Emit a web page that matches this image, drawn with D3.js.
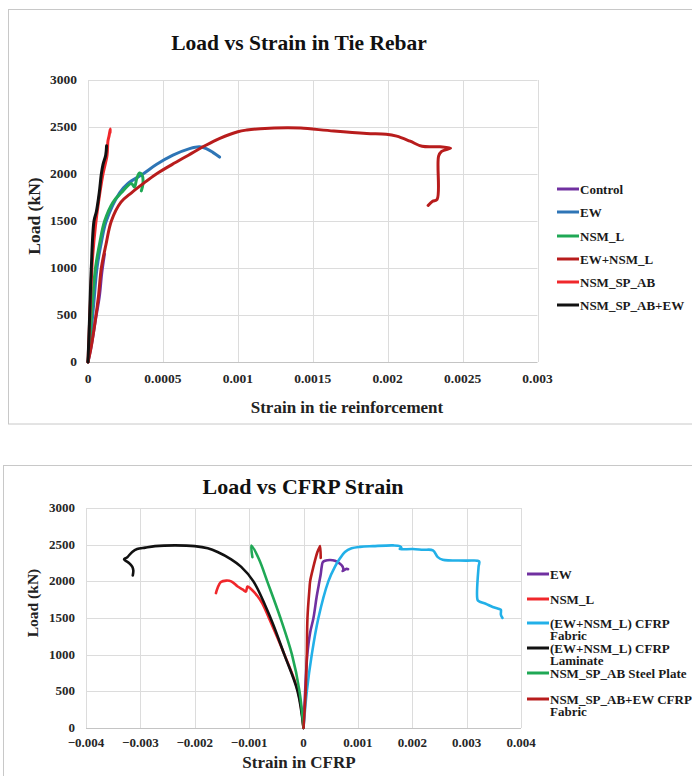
<!DOCTYPE html>
<html>
<head>
<meta charset="utf-8">
<script src="https://cdn.jsdelivr.net/npm/d3@7"></script>
<style>
  body { margin: 0; background: #fff; }
  svg { display: block; font-family: "Liberation Serif", "Times New Roman", serif; font-weight: bold; }
</style>
</head>
<body>
<div id="vis"></div>
<script>
// ---- data: [strain, load kN] ----
var tieControl = [[0,0],[0.000025,200],[0.00005,450],[0.000076,700],[0.000092,950],[0.00011,1150]];
var tieEW = [[0,0],[0.00002,300],[0.00004,650],[0.00006,1000],[0.00009,1280],[0.000122,1500],[0.000211,1800],[0.000267,1900],[0.000367,2000],[0.000456,2100],[0.000567,2200],[0.000678,2270],[0.000744,2290],[0.000789,2270],[0.000833,2230],[0.000878,2180]];
var tieNSM_L = [[0,0],[0.000015,300],[0.00003,650],[0.00005,1000],[0.00008,1280],[0.000111,1500],[0.000167,1700],[0.000222,1800],[0.000289,1900],[0.00031,1860],[0.000325,1950],[0.000344,2010],[0.000361,1990],[0.000367,1900],[0.000356,1820]];
var tieEW_NSM_L = [[0,0],[0.00002,150],[0.000045,400],[0.00007,700],[0.000089,1000],[0.00012,1250],[0.000156,1500],[0.00022,1700],[0.00029,1800],[0.00037,1900],[0.000456,2000],[0.00056,2100],[0.00067,2200],[0.00078,2300],[0.00088,2380],[0.001,2450],[0.00106,2468],[0.00115,2482],[0.00133,2493],[0.00142,2489],[0.00164,2457],[0.00186,2432],[0.00199,2424],[0.00206,2403],[0.00215,2349],[0.00223,2295],[0.00235,2290],[0.00242,2275],[0.00236,2240],[0.00234,2190],[0.00233,1730],[0.0023,1710],[0.00227,1665]];
var tieSP_AB = [[0,0],[0.00001,400],[0.00002,800],[0.00003,1100],[0.00005,1450],[0.00007,1700],[0.0001,2000],[0.000127,2200],[0.000133,2350],[0.00014,2400],[0.000149,2480],[0.000147,2440]];
var tieSP_AB_EW = [[0,0],[0.000011,500],[0.000022,1000],[0.00004,1500],[0.000056,1600],[0.000075,1800],[0.000089,2000],[0.0001,2100],[0.000118,2200],[0.000124,2300]];

var cfrpEW = [[0,0],[0.00003,500],[0.00007,1000],[0.000122,1300],[0.000183,1500],[0.000244,1800],[0.000293,2000],[0.000317,2100],[0.000335,2200],[0.000354,2260],[0.000396,2280],[0.000488,2290],[0.000579,2280],[0.000671,2240],[0.00072,2200],[0.000732,2150],[0.00072,2140],[0.000793,2170],[0.00082,2165]];
var cfrpNSM_L = [[0,0],[-0.0001,500],[-0.00035,1000],[-0.000636,1500],[-0.000758,1700],[-0.000848,1800],[-0.00097,1900],[-0.00103,1930],[-0.00106,1860],[-0.00112,1890],[-0.00121,1930],[-0.00133,2000],[-0.00142,2010],[-0.00152,1990],[-0.00158,1910],[-0.00161,1840]];
var cfrpFabric = [[0,0],[0.000061,500],[0.000152,1000],[0.000274,1500],[0.000457,2000],[0.000579,2200],[0.000659,2300],[0.000762,2400],[0.000884,2450],[0.00104,2470],[0.00128,2480],[0.00165,2490],[0.00177,2480],[0.0018,2460],[0.00177,2440],[0.00201,2440],[0.0022,2430],[0.00238,2423],[0.00247,2330],[0.00256,2295],[0.00299,2282],[0.00323,2273],[0.00322,2200],[0.0032,1750],[0.00323,1727],[0.00335,1695],[0.00348,1650],[0.0036,1623],[0.00363,1614],[0.00363,1545],[0.00366,1500]];
var cfrpLaminate = [[0,0],[-0.000109,500],[-0.000352,1000],[-0.000606,1500],[-0.000921,2000],[-0.00115,2200],[-0.00133,2300],[-0.00158,2400],[-0.00176,2450],[-0.002,2480],[-0.00236,2490],[-0.00273,2480],[-0.00291,2460],[-0.00306,2440],[-0.00315,2400],[-0.00324,2330],[-0.0033,2300],[-0.00327,2280],[-0.00321,2250],[-0.00315,2200],[-0.00313,2150],[-0.00314,2080]];
var cfrpSteelPlate = [[0,0],[-0.000073,500],[-0.000212,1000],[-0.000424,1500],[-0.000667,2000],[-0.000818,2300],[-0.000958,2490],[-0.00094,2330]];
var cfrpSP_AB_EW = [[0,0],[0.00004,500],[0.000061,1000],[0.000073,1500],[0.00011,1900],[0.000122,2000],[0.000183,2200],[0.000256,2400],[0.000293,2460],[0.000305,2480],[0.000317,2320]];

var tieNames = ["Control", "EW", "NSM_L", "EW+NSM_L", "NSM_SP_AB", "NSM_SP_AB+EW"];
var cfrpNames = [["EW"], ["NSM_L"], ["(EW+NSM_L) CFRP", "Fabric"], ["(EW+NSM_L) CFRP", "Laminate"], ["NSM_SP_AB Steel Plate"], ["NSM_SP_AB+EW CFRP", "Fabric"]];

var tieXTicks = [0, 0.0005, 0.001, 0.0015, 0.002, 0.0025, 0.003];
var cfrpXTicks = [-0.004, -0.003, -0.002, -0.001, 0, 0.001, 0.002, 0.003, 0.004];
var loadTicks = [0, 500, 1000, 1500, 2000, 2500, 3000];

var colors = {
    purple: "#7030A0",
    blue: "#2E75B6",
    green: "#1FA855",
    darkRed: "#B81C1C",
    red: "#F0272B",
    black: "#111111",
    sky: "#22B0E8"
}

var svg = d3.select("#vis").append("svg")
    .attr("width", 692)
    .attr("height", 776)

// frames
svg.append("rect").attr("x", 8.5).attr("y", 9.5).attr("width", 700).attr("height", 414.5)
    .attr("fill", "none").attr("stroke", "#c8c8c8")
svg.append("rect").attr("x", 3.5).attr("y", 465.5).attr("width", 700).attr("height", 330)
    .attr("fill", "none").attr("stroke", "#c8c8c8")

function drawChart(cfg) {
    var x = d3.scaleLinear().domain(cfg.xDomain).range([cfg.left, cfg.right])
    var y = d3.scaleLinear().domain([0, 3000]).range([cfg.bottom, cfg.top])
    var g = svg.append("g")

    // grid
    g.append("g").selectAll("line").data(loadTicks).enter().append("line")
        .attr("x1", cfg.left).attr("x2", cfg.right)
        .attr("y1", function(d) { return Math.round(y(d)) + 0.5 })
        .attr("y2", function(d) { return Math.round(y(d)) + 0.5 })
        .attr("stroke", function(d) { return d === 0 ? "#c4c4c4" : "#dcdcdc" })
    g.append("g").selectAll("line").data(cfg.xTicks).enter().append("line")
        .attr("y1", cfg.top).attr("y2", cfg.bottom)
        .attr("x1", function(d) { return Math.round(x(d)) + 0.5 })
        .attr("x2", function(d) { return Math.round(x(d)) + 0.5 })
        .attr("stroke", "#dcdcdc")

    // tick labels
    g.append("g").selectAll("text").data(loadTicks).enter().append("text")
        .attr("x", cfg.yLabelX).attr("y", function(d) { return y(d) + 4 })
        .attr("text-anchor", "end").attr("font-size", cfg.tickSize).attr("fill", "#262626")
        .text(function(d) { return d })
    g.append("g").selectAll("text").data(cfg.xTicks).enter().append("text")
        .attr("x", function(d) { return x(d) }).attr("y", cfg.xLabelY)
        .attr("text-anchor", "middle").attr("font-size", cfg.tickSize).attr("fill", "#262626")
        .text(function(d) { return d3.format("")(+d.toFixed(4)) })

    // titles
    g.append("text").attr("x", cfg.titleX).attr("y", cfg.titleY).attr("text-anchor", "middle")
        .attr("font-size", cfg.titleSize).attr("fill", "#111").text(cfg.title)
    g.append("text").attr("x", cfg.xTitleX).attr("y", cfg.xTitleY).attr("text-anchor", "middle")
        .attr("font-size", cfg.xTitleSize).attr("fill", "#222").text(cfg.xTitle)
    g.append("text").attr("transform", "translate(" + cfg.yTitleX + "," + cfg.yTitleY + ") rotate(-90)")
        .attr("text-anchor", "middle").attr("font-size", cfg.yTitleSize).attr("fill", "#222").text("Load (kN)")

    // series
    var line = d3.line()
        .x(function(d) { return x(d[0]) })
        .y(function(d) { return y(d[1]) })
        .curve(d3.curveCatmullRom.alpha(0.5))
    cfg.series.forEach(function(s) {
        g.append("path").datum(s.data)
            .attr("d", line)
            .attr("fill", "none")
            .attr("stroke", s.color)
            .attr("stroke-width", cfg.lineWidth)
            .attr("stroke-linejoin", "round")
            .attr("stroke-linecap", "round")
    })

    // legend
    var leg = g.append("g").selectAll("g").data(cfg.series).enter().append("g")
        .attr("transform", function(d, i) { return "translate(" + cfg.legendX + "," + cfg.legendY[i] + ")" })
    leg.append("line").attr("x1", 0).attr("x2", 22).attr("y1", 0).attr("y2", 0)
        .attr("stroke", function(d) { return d.color }).attr("stroke-width", 3)
    leg.append("text").attr("x", 23).attr("font-size", cfg.legendSize).attr("fill", "#1a1a1a")
        .selectAll("tspan").data(function(d) { return [].concat(d.name) }).enter().append("tspan")
        .attr("x", 23).attr("y", function(d, i) { return 4.5 + i * 12.5 })
        .text(function(d) { return d })
}

drawChart({
    xDomain: [0, 0.003], left: 88, right: 537.5, top: 80, bottom: 362,
    xTicks: tieXTicks, yLabelX: 77, xLabelY: 383, tickSize: 13.5,
    title: "Load vs Strain in Tie Rebar", titleX: 299, titleY: 50, titleSize: 21.5,
    xTitle: "Strain in tie reinforcement", xTitleX: 347, xTitleY: 413, xTitleSize: 17,
    yTitleX: 40, yTitleY: 216, yTitleSize: 17.5,
    lineWidth: 3,
    legendX: 557, legendY: [189, 212, 236, 259, 282, 305], legendSize: 13,
    series: [
        {name: tieNames[0], color: colors.purple, data: tieControl},
        {name: tieNames[1], color: colors.blue, data: tieEW},
        {name: tieNames[2], color: colors.green, data: tieNSM_L},
        {name: tieNames[3], color: colors.darkRed, data: tieEW_NSM_L},
        {name: tieNames[4], color: colors.red, data: tieSP_AB},
        {name: tieNames[5], color: colors.black, data: tieSP_AB_EW}
    ]
})

drawChart({
    xDomain: [-0.004, 0.004], left: 86, right: 521, top: 508, bottom: 728,
    xTicks: cfrpXTicks, yLabelX: 75, xLabelY: 746.5, tickSize: 13,
    title: "Load vs CFRP Strain", titleX: 303, titleY: 494, titleSize: 22,
    xTitle: "Strain in CFRP", xTitleX: 299, xTitleY: 768, xTitleSize: 17,
    yTitleX: 38, yTitleY: 603, yTitleSize: 15.5,
    lineWidth: 2.6,
    legendX: 527, legendY: [574, 599, 623, 648, 673, 699], legendSize: 13,
    series: [
        {name: cfrpNames[0], color: colors.purple, data: cfrpEW},
        {name: cfrpNames[1], color: colors.red, data: cfrpNSM_L},
        {name: cfrpNames[2], color: colors.sky, data: cfrpFabric},
        {name: cfrpNames[3], color: colors.black, data: cfrpLaminate},
        {name: cfrpNames[4], color: colors.green, data: cfrpSteelPlate},
        {name: cfrpNames[5], color: colors.darkRed, data: cfrpSP_AB_EW}
    ]
})
</script>
</body>
</html>
